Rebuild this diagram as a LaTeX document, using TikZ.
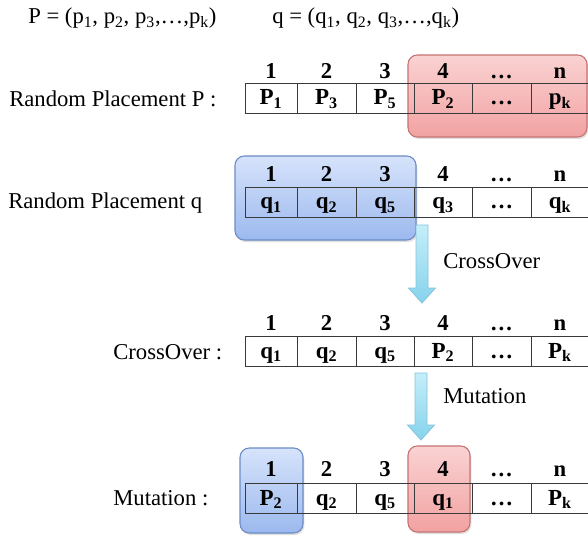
\documentclass[tikz,border=0pt]{standalone}
\usepackage{fontspec}
\setmainfont{Liberation Serif}
\usetikzlibrary{shadows,calc}
\definecolor{redtop}{HTML}{FAD2D2}
\definecolor{redbot}{HTML}{F2A2A2}
\definecolor{redline}{HTML}{C77272}
\definecolor{bluetop}{HTML}{D6E3FB}
\definecolor{bluebot}{HTML}{9CB9EE}
\definecolor{blueline}{HTML}{6C8CC6}
\definecolor{arrtop}{HTML}{C4EEF9}
\definecolor{arrbot}{HTML}{86D3EC}
\definecolor{arrline}{HTML}{86C4DC}
\definecolor{gridline}{HTML}{3A3A3A}
\newcommand\tablerow[8]{%
  \foreach \l/\r/\t [count=\i] in {245/297/{#3},297/356/{#4},356/414/{#5},414/472/{#6},472/531/{#7},531/589/{#8}}{%
    \node[cell, minimum width={(\r-\l)*0.75pt}] (#1\i) at ({(\l+\r)/2},{#2+15}) {\t};
  }}
\newcommand\headrow[2]{%
  \foreach \c/\t [count=\i] in {271/1,326.5/2,385/3,443/4,501.5/{…},560/n}{%
    \node[hdr] (#1h\i) at (\c,#2) {\t};
  }}
\newcommand\flowarrow[5]{% name, x, top, head start, tip
  \coordinate (#1a) at (#2,#3);
  \coordinate (#1b) at (#2,#5);
  \path[flow] ($(#1a)+(-6,0)$) -- ($(#1a)+(6,0)$) -- ($(#1a)+(6,#4-#3)$) -- ($(#1a)+(13.5,#4-#3)$) -- (#1b)
     -- ($(#1a)+(-13.5,#4-#3)$) -- ($(#1a)+(-6,#4-#3)$) -- cycle;}
\begin{document}
\begin{tikzpicture}[x=0.75pt,y=-0.75pt,
  lbl/.style={anchor=base west, inner sep=0pt, font=\fontsize{17}{20}\selectfont},
  hdr/.style={anchor=base, inner sep=0pt, font=\fontsize{17}{20}\selectfont\bfseries},
  cell/.style={draw=gridline, line width=0.6pt, minimum height=22.5pt, inner sep=0pt,
    text height=14pt, text depth=3.5pt,
    font=\fontsize{17.25}{20}\selectfont\bfseries},
  redbox/.style={draw=redline, line width=0.8pt, rounded corners=7pt, top color=redtop, bottom color=redbot,
    drop shadow={opacity=0.25, shadow xshift=1pt, shadow yshift=-1.5pt}},
  bluebox/.style={draw=blueline, line width=0.8pt, rounded corners=7pt, top color=bluetop, bottom color=bluebot,
    drop shadow={opacity=0.25, shadow xshift=1pt, shadow yshift=-1.5pt}},
  flow/.style={draw=arrline, line width=0.6pt, top color=arrtop, bottom color=arrbot}
]
\useasboundingbox (0,0) rectangle (588,538);
\fill[white] (0,0) rectangle (588,538);

% top formulas
\node[lbl] (fp) at (28,24) {P = (p\textsubscript{1}, p\textsubscript{2}, p\textsubscript{3},…,p\textsubscript{k})};
\node[lbl] (fq) at (272,24) {q = (q\textsubscript{1}, q\textsubscript{2}, q\textsubscript{3},…,q\textsubscript{k})};

% highlight boxes
\path[redbox] (408,55) rectangle (587,137);
\path[bluebox] (235,156) rectangle (416,240);
\path[bluebox] (240,448) rectangle (303,533);
\path[redbox] (408,446) rectangle (470,532);

% row 1
\node[lbl] (l1) at (9,107) {Random Placement P :};
\headrow{a}{79}
\tablerow{a}{83}{P\textsubscript{1}}{P\textsubscript{3}}{P\textsubscript{5}}{P\textsubscript{2}}{…}{p\textsubscript{k}}

% row 2
\node[lbl] (l2) at (8,209) {Random Placement q};
\headrow{b}{182}
\tablerow{b}{187}{q\textsubscript{1}}{q\textsubscript{2}}{q\textsubscript{5}}{q\textsubscript{3}}{…}{q\textsubscript{k}}

% crossover arrow
\flowarrow{x}{422}{225}{288}{303}
\node[lbl] (cx) at (443,268) {CrossOver};

% row 3
\node[lbl] (l3) at (113,359) {CrossOver :};
\headrow{c}{330}
\tablerow{c}{336}{q\textsubscript{1}}{q\textsubscript{2}}{q\textsubscript{5}}{P\textsubscript{2}}{…}{P\textsubscript{k}}

% mutation arrow
\flowarrow{m}{421}{373}{425}{440}
\node[lbl] (mx) at (443,403) {Mutation};

% row 4
\node[lbl] (l4) at (113,505) {Mutation :};
\headrow{d}{476}
\tablerow{d}{483}{P\textsubscript{2}}{q\textsubscript{2}}{q\textsubscript{5}}{q\textsubscript{1}}{…}{P\textsubscript{k}}
\end{tikzpicture}
\end{document}
